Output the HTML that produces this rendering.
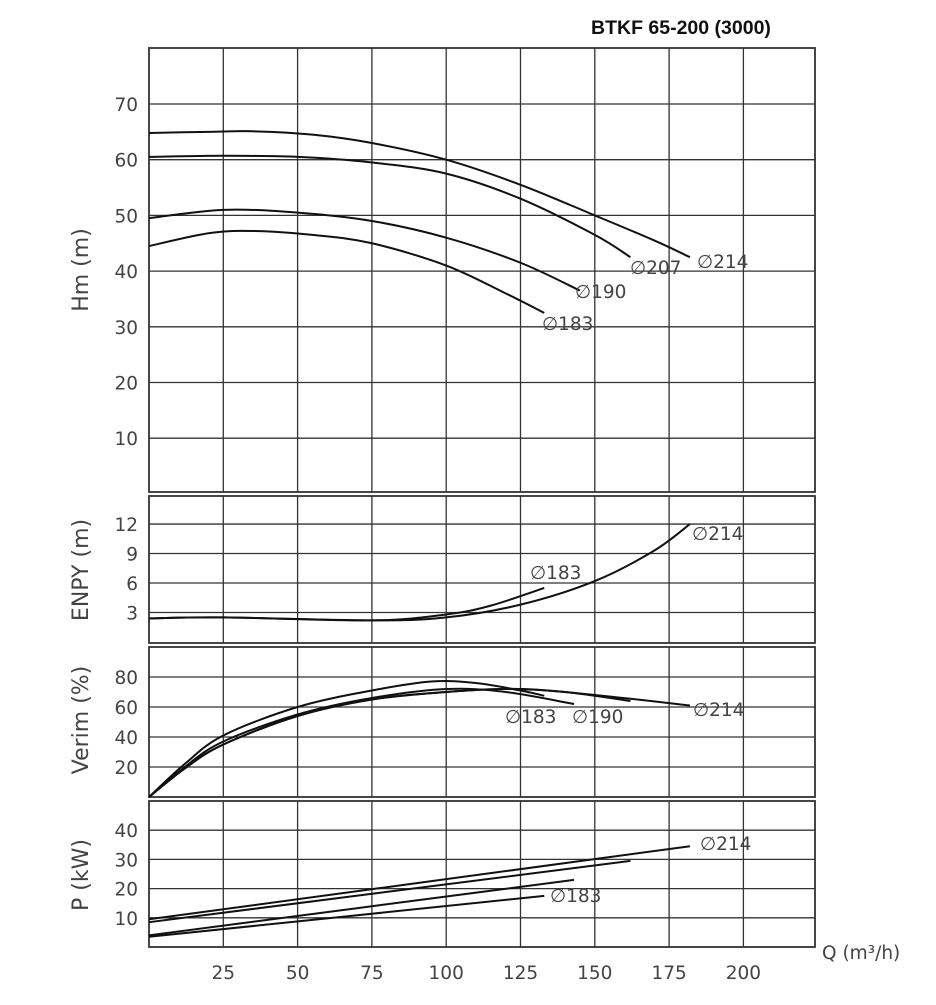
<!DOCTYPE html>
<html><head><meta charset="utf-8"><style>
body{margin:0;background:#fff;width:936px;height:1000px;overflow:hidden}
svg text{font-family:"DejaVu Sans","Liberation Sans",sans-serif;fill:#444}
</style></head><body>
<svg id="s" width="936" height="1000" xmlns="http://www.w3.org/2000/svg">
<text x="591" y="34" style="font-family:'Liberation Sans',sans-serif;font-weight:bold;font-size:19.5px;fill:#111">BTKF 65-200 (3000)</text>
<g id="grid" stroke="#333" fill="none"></g>
<g id="curves" stroke="#111" stroke-width="2" fill="none"></g>
<g id="labels" font-size="18.5"></g>
</svg>
<script>
const NS="http://www.w3.org/2000/svg";
const X=q=>149+q*2.972;
const grid=document.getElementById('grid'),cur=document.getElementById('curves'),lab=document.getElementById('labels');
function el(p,t,a,txt){const e=document.createElementNS(NS,t);for(const k in a)e.setAttribute(k,a[k]);if(txt)e.textContent=txt;p.appendChild(e);return e;}
function line(x1,y1,x2,y2,w){el(grid,'line',{x1,y1,x2,y2,'stroke-width':w||1.3});}
function txt(x,y,s,o){const a={x,y};Object.assign(a,o||{});el(lab,'text',a,s);}
const panels=[[48,492],[496,643],[647,797],[801,947]];
panels.forEach(([t,b])=>{el(grid,'rect',{x:149,y:t,width:666,height:b-t,'stroke-width':1.8});
 for(let i=1;i<=8;i++)line(X(25*i),t,X(25*i),b);});
const YH=h=>104+(70-h)*5.57;
for(let h=10;h<=70;h+=10){line(149,YH(h),815,YH(h));txt(138,YH(h)+7,h,{'text-anchor':'end'});}
const YE=v=>642-v*9.83;
[3,6,9,12].forEach(v=>{line(149,YE(v),815,YE(v));txt(138,YE(v)+7,v,{'text-anchor':'end'});});
const YV=v=>797-v*1.5;
[20,40,60,80].forEach(v=>{line(149,YV(v),815,YV(v));txt(138,YV(v)+7,v,{'text-anchor':'end'});});
const YP=v=>947-v*2.92;
[10,20,30,40].forEach(v=>{line(149,YP(v),815,YP(v));txt(138,YP(v)+7,v,{'text-anchor':'end'});});
for(let i=1;i<=8;i++)txt(X(25*i),979,25*i,{'text-anchor':'middle'});
txt(822,959,"Q (m³/h)");
[["Hm (m)",270],["ENPY (m)",570],["Verim (%)",720],["P (kW)",875]].forEach(([s,y])=>{txt(0,0,s,{'text-anchor':'middle','font-size':'22',transform:`translate(88,${y}) rotate(-90)`});});
function curve(pts,Y){const P=pts.map(([q,v])=>[X(q),Y(v)]);let d=`M${P[0][0]},${P[0][1]}`;
 for(let i=0;i<P.length-1;i++){const p0=P[i-1]||P[i],p1=P[i],p2=P[i+1],p3=P[i+2]||p2;
  d+=` C${p1[0]+(p2[0]-p0[0])/6},${p1[1]+(p2[1]-p0[1])/6} ${p2[0]-(p3[0]-p1[0])/6},${p2[1]-(p3[1]-p1[1])/6} ${p2[0]},${p2[1]}`;}
 el(cur,'path',{d});}
curve([[0,64.8],[20,65],[35,65.1],[55,64.5],[75,63],[100,60],[125,55.5],[150,50],[170,45.5],[182,42.5]],YH);
curve([[0,60.5],[25,60.7],[50,60.5],[75,59.5],[100,57.5],[125,53],[150,46.5],[162,42.5]],YH);
curve([[0,49.5],[25,51],[50,50.5],[75,49],[100,46],[125,41.5],[145,36.5]],YH);
curve([[0,44.5],[20,46.8],[35,47.2],[55,46.5],[75,45],[100,41],[120,36],[133,32.5]],YH);
curve([[0,2.4],[25,2.5],[75,2.2],[100,2.5],[125,3.8],[150,6.2],[170,9.3],[182,12]],YE);
curve([[0,2.4],[25,2.5],[75,2.2],[100,2.8],[115,3.7],[133,5.5]],YE);
curve([[0,0],[12,22],[25,41],[50,60],[75,71],[95,77],[110,76],[125,71],[133,67.5]],YV);
curve([[0,0],[12,20],[25,37],[50,55],[75,66],[100,72],[120,70],[143,62]],YV);
curve([[0,0],[12,19],[25,35],[50,54],[75,65],[100,70],[120,72],[140,70],[162,64]],YV);
curve([[0,0],[12,19],[25,35],[50,54],[75,65],[100,70],[125,72],[150,68],[182,61]],YV);
curve([[0,9.5],[182,34.5]],YP);
curve([[0,8.5],[162,29.5]],YP);
curve([[0,4],[143,23]],YP);
curve([[0,3.5],[133,17.5]],YP);
const D="∅";
txt(697,268,D+"214");txt(630,274,D+"207");txt(575,298,D+"190");txt(542,330,D+"183");
txt(692,540,D+"214");txt(530,579,D+"183");
txt(505,723,D+"183");txt(572,723,D+"190");txt(693,716,D+"214");
txt(700,850,D+"214");txt(550,902,D+"183");
</script>
</body></html>
